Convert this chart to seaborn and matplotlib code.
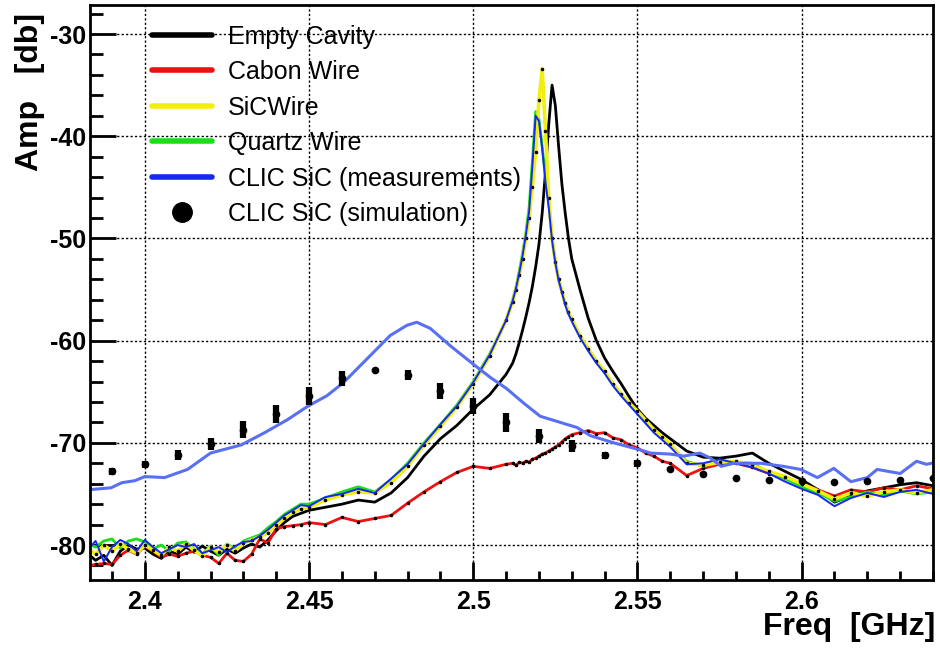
import matplotlib
matplotlib.use("Agg")
import matplotlib.pyplot as plt
from matplotlib.lines import Line2D
import seaborn as sns

# frequency grid of the network analyser traces [GHz]
freq = [2.3825, 2.385, 2.3875, 2.39, 2.3925, 2.395, 2.3975, 2.40, 2.4025, 2.405,
        2.4075, 2.41, 2.4125, 2.415, 2.4175, 2.42, 2.4225, 2.425, 2.4275, 2.43,
        2.4325, 2.435, 2.4375, 2.44, 2.4425, 2.445, 2.4475,
        2.45, 2.455, 2.46, 2.465, 2.47, 2.475, 2.48, 2.485, 2.49, 2.495, 2.50, 2.505, 2.51,
        2.512, 2.513, 2.514, 2.515, 2.516, 2.517, 2.518, 2.519, 2.520, 2.521,
        2.522, 2.523, 2.524, 2.525, 2.526, 2.527, 2.528, 2.529, 2.530,
        2.5325, 2.535, 2.5375, 2.54, 2.5425, 2.545, 2.5475, 2.55, 2.5525, 2.555, 2.5575, 2.56,
        2.565, 2.57, 2.575, 2.58, 2.585, 2.59, 2.595, 2.60, 2.605, 2.61,
        2.615, 2.62, 2.625, 2.63, 2.635, 2.64]

empty_cavity = [-80.8, -81.5, -81.0, -82.0, -80.6, -80.0, -80.4, -80.3, -80.9, -81.3,
                -80.6, -80.9, -80.2, -80.7, -80.1, -80.6, -81.0, -80.4, -80.8, -80.3,
                -79.9, -80.2, -79.5, -78.6, -77.8, -77.2, -76.9,
                -76.6, -76.3, -76.0, -75.6, -75.8, -74.9, -73.4, -71.3, -69.6, -68.3, -66.7, -65.3, -63.3,
                -62.2, -61.3, -60.2, -59.0, -57.7, -56.3, -54.7, -52.8, -50.6, -47.5,
                -43.5, -38.8, -35.0, -37.0, -41.0, -44.7, -47.5, -50.0, -52.0,
                -55.0, -57.8, -60.0, -61.7, -63.0, -64.2, -65.5, -66.7, -67.6, -68.3, -69.0, -69.6,
                -70.8, -71.4, -71.5, -71.3, -71.0, -72.0, -72.8, -73.6, -74.6, -75.8,
                -75.2, -74.7, -74.4, -74.1, -73.9, -74.2]

carbon_wire = [-82.0, -81.9, -81.8, -81.9, -81.0, -80.5, -80.9, -80.1, -80.6, -81.2,
               -80.9, -81.1, -80.8, -80.6, -81.0, -81.2, -81.8, -80.8, -81.5, -81.6,
               -80.9, -79.4, -79.8, -78.4, -78.2, -78.1, -78.0,
               -77.8, -78.0, -77.3, -77.7, -77.4, -77.1, -75.9, -74.8, -73.8, -72.9, -72.3, -72.5, -72.1,
               -72.0, -72.2, -71.9, -72.0, -71.8, -71.9, -71.6, -71.5, -71.3, -71.1,
               -71.0, -70.8, -70.6, -70.4, -70.2, -69.9, -69.6, -69.4, -69.2,
               -69.0, -68.8, -69.1, -69.0, -69.5, -69.7, -70.2, -70.5, -71.0, -71.3, -71.8, -72.0,
               -73.2, -72.5, -72.1, -72.0, -72.4, -73.0, -73.4, -74.0, -74.6, -75.2,
               -74.6, -74.8, -74.4, -74.6, -74.2, -74.5]

sic_wire = [-80.3, -80.9, -80.0, -80.6, -79.9, -80.4, -80.8, -80.0, -80.5, -81.0,
            -80.2, -80.6, -79.9, -80.5, -81.1, -80.2, -80.7, -80.0, -80.6, -79.8,
            -79.5, -79.2, -78.8, -78.0, -77.4, -76.8, -76.5,
            -76.3, -75.6, -75.1, -74.8, -74.9, -73.9, -72.3, -70.2, -68.4, -66.5, -64.2, -61.5, -58.0,
            -56.2, -55.0, -53.6, -52.0, -50.0, -48.0, -45.0, -41.5, -36.5, -33.4,
            -39.5, -46.0, -50.0, -52.3, -54.0, -55.2, -56.3, -57.2, -57.9,
            -59.5, -60.8, -62.0, -63.0, -64.2, -65.2, -66.1, -66.9, -67.8, -68.7, -69.4, -70.1,
            -72.0, -72.2, -71.9, -71.8, -72.2, -72.8, -73.3, -74.0, -74.7, -75.5,
            -74.9, -75.2, -74.8, -74.6, -74.9, -74.6]

quartz_wire = [-79.8, -80.2, -79.6, -79.4, -80.3, -79.6, -79.4, -79.7, -80.4, -80.0,
               -80.6, -79.8, -79.7, -80.4, -80.9, -80.1, -81.0, -79.9, -80.4, -79.6,
               -79.3, -79.0, -78.3, -77.7, -77.0, -76.5, -76.0,
               -76.0, -75.4, -74.8, -74.3, -74.8, -73.6, -72.0, -70.0, -68.2, -66.3, -64.0, -61.3, -58.0,
               -56.0, -54.8, -53.2, -51.5, -49.5, -47.0, -42.5, -37.6, -38.3, -41.0,
               -44.0, -46.5, -50.0, -52.3, -54.0, -55.2, -56.4, -57.3, -58.0,
               -59.6, -60.9, -62.1, -63.1, -64.3, -65.3, -66.2, -67.1, -68.0, -68.9, -69.6, -70.3,
               -71.8, -72.3, -71.7, -71.9, -72.0, -72.9, -73.5, -74.3, -74.9, -75.7,
               -75.3, -74.8, -75.1, -74.7, -75.0, -74.8]

clic_meas = [-80.5, -79.6, -81.6, -80.2, -79.5, -79.9, -80.6, -79.5, -80.2, -80.8,
             -80.4, -80.0, -80.2, -79.9, -80.8, -80.5, -80.2, -80.7, -80.1, -79.7,
             -79.6, -79.1, -78.5, -77.8, -77.1, -76.6, -76.1,
             -76.2, -75.3, -75.0, -74.5, -74.9, -73.5, -72.1, -70.1, -68.2, -66.4, -64.1, -61.4, -58.0,
             -56.1, -54.9, -53.4, -51.7, -49.7, -47.4, -43.0, -38.0, -38.5, -41.2,
             -44.5, -47.0, -50.2, -52.4, -54.1, -55.3, -56.5, -57.4, -58.1,
             -59.7, -61.0, -62.2, -63.2, -64.4, -65.4, -66.3, -67.2, -68.1, -69.0, -69.7, -70.4,
             -72.1, -72.0, -71.6, -72.0, -72.4, -73.0, -73.8, -74.5, -75.1, -76.2,
             -75.4, -74.9, -75.3, -74.8, -74.6, -75.0]

# broad loaded-cavity response
broad_freq = [2.3826, 2.386, 2.3897, 2.393, 2.397, 2.400, 2.406, 2.413, 2.420, 2.4294,
              2.4365, 2.4436, 2.4497, 2.4554, 2.4605, 2.4676, 2.4747, 2.4798, 2.4828, 2.4869,
              2.493, 2.500, 2.5052, 2.5102, 2.5153, 2.5204, 2.5255, 2.5316, 2.5357, 2.5428,
              2.551, 2.554, 2.560, 2.5641, 2.5690, 2.5723, 2.5755, 2.5793, 2.5875, 2.5945,
              2.5997, 2.6048, 2.6098, 2.615, 2.620, 2.623, 2.630, 2.635, 2.638, 2.641]
broad_amp = [-74.6, -74.5, -74.4, -73.9, -73.7, -73.3, -73.4, -72.6, -71.0, -70.2,
             -69.0, -67.7, -66.4, -65.4, -64.1, -61.8, -59.5, -58.5, -58.2, -58.8,
             -60.5, -62.3, -63.6, -64.7, -66.1, -67.4, -67.9, -68.5, -69.3, -70.0,
             -70.7, -71.0, -71.1, -71.3, -71.0, -71.5, -72.3, -72.0, -72.0, -72.3,
             -72.6, -73.4, -72.5, -73.8, -73.4, -72.6, -73.0, -71.8, -72.1, -71.9]

# simulation points
sim_freq = [2.39, 2.40, 2.41, 2.42, 2.43, 2.44, 2.45, 2.46, 2.47, 2.48,
            2.49, 2.50, 2.51, 2.52, 2.53, 2.54, 2.55, 2.56, 2.57, 2.58,
            2.59, 2.60, 2.61, 2.62, 2.63, 2.64]
sim_amp = [-72.8, -72.1, -71.2, -70.1, -68.7, -67.2, -65.4, -63.7, -62.9, -63.4,
           -64.9, -66.4, -68.0, -69.3, -70.3, -71.2, -72.0, -72.6, -73.0, -73.4,
           -73.6, -73.7, -73.8, -73.7, -73.6, -73.4]
sim_err = [0.35, 0.35, 0.5, 0.6, 0.8, 0.9, 0.9, 0.7, 0.15, 0.5,
           0.8, 0.8, 0.9, 0.7, 0.6, 0.35, 0.35, 0.2, 0.1, 0.1,
           0.1, 0.05, 0.05, 0.05, 0.05, 0.1]

labels = ["Empty Cavity", "Cabon Wire", "SiCWire", "Quartz Wire",
          "CLIC SiC (measurements)", "CLIC SiC (simulation)"]

sns.set_style("ticks")
plt.rcParams['font.family'] = ['Liberation Sans', 'DejaVu Sans']
plt.rcParams['axes.unicode_minus'] = False
plt.rcParams['text.color'] = 'black'

fig = plt.figure(figsize=(9.4, 6.49), dpi=100)
ax = fig.add_axes([90 / 940, 69 / 649, 843 / 940, 575 / 649])

c_black, c_red, c_yel, c_grn, c_blu, c_lb = "#000000", "#ee1111", "#f2ee10", "#18e018", "#1428f0", "#5a70f2"

# small black point markers on the traces, like the ROOT graphs
pts = dict(marker='o', ms=1.8, mfc='black', mec='black', estimator=None, sort=False)

sns.lineplot(x=freq, y=empty_cavity, ax=ax, color=c_black, lw=2.0, estimator=None, sort=False)
sns.lineplot(x=freq, y=carbon_wire, ax=ax, color=c_red, lw=2.0, **pts)
sns.lineplot(x=freq, y=quartz_wire, ax=ax, color=c_grn, lw=2.0, estimator=None, sort=False)
sns.lineplot(x=freq, y=sic_wire, ax=ax, color=c_yel, lw=2.6, **pts)
sns.lineplot(x=freq, y=clic_meas, ax=ax, color=c_blu, lw=1.4, estimator=None, sort=False)
sns.lineplot(x=broad_freq, y=broad_amp, ax=ax, color=c_lb, lw=2.2, estimator=None, sort=False)
ax.errorbar(sim_freq, sim_amp, yerr=sim_err, fmt='o', color='black', ms=4.5,
            elinewidth=4.5, capsize=0, zorder=5)

ax.set_xlim(2.3833, 2.6395)
ax.set_ylim(-83.42, -27.16)
ax.set_xticks([2.4, 2.45, 2.5, 2.55, 2.6])
ax.set_xticklabels(["2.4", "2.45", "2.5", "2.55", "2.6"])
ax.set_xticks([2.39 + 0.01 * i for i in range(26)], minor=True)
ax.set_yticks([-80, -70, -60, -50, -40, -30])
ax.set_yticks([-82 + 2 * i for i in range(28)], minor=True)
ax.set_xlabel("")
ax.set_ylabel("")

for s in ax.spines.values():
    s.set_linewidth(2.0)
    s.set_color("black")
ax.tick_params(axis='both', which='both', direction='in', width=2.0, colors='black')
ax.tick_params(axis='y', which='major', length=19, pad=3, labelsize=18)
ax.tick_params(axis='y', which='minor', length=9.5)
ax.tick_params(axis='x', which='major', length=13, pad=7, labelsize=18)
ax.tick_params(axis='x', which='minor', length=6.5)
for t in ax.get_xticklabels() + ax.get_yticklabels():
    t.set_fontweight('bold')

ax.grid(True, which='major', color='black', lw=1.0, ls=(0, (1.6, 1.6)))

fig.text(935 / 940, 1 - 635 / 649, "Freq  [GHz]", ha='right', va='baseline',
         fontsize=23, fontweight='bold', color='black')
fig.text(38 / 940, 1 - 13 / 649, "Amp   [db]", ha='right', va='baseline', rotation=90,
         fontsize=23, fontweight='bold', rotation_mode='anchor', color='black')

handles = [Line2D([], [], color=c, lw=4) for c in (c_black, c_red, c_yel, c_grn, c_blu)]
handles.append(Line2D([], [], ls='none', marker='o', color='black', ms=14))
leg = ax.legend(handles, labels, loc='upper left', bbox_to_anchor=(0.0736, 0.966),
                frameon=False, fontsize=18, handlelength=2.4, handletextpad=0.65,
                labelspacing=0.46, borderpad=0, borderaxespad=0)
for t in leg.get_texts():
    t.set_color('black')

fig.savefig("out.png", dpi=100)
